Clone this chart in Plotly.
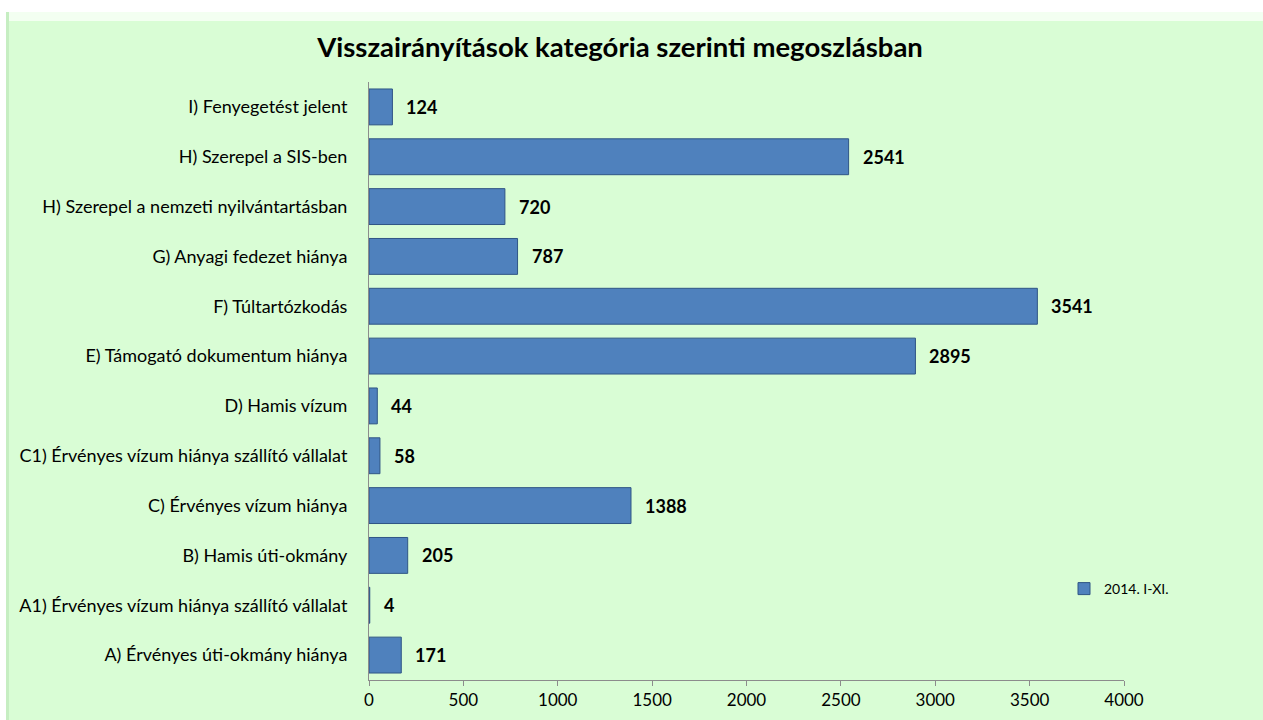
import plotly.graph_objects as go

categories = [
    "A) Érvényes úti-okmány hiánya",
    "A1) Érvényes vízum hiánya szállító vállalat",
    "B) Hamis úti-okmány",
    "C) Érvényes vízum hiánya",
    "C1) Érvényes vízum hiánya szállító vállalat",
    "D) Hamis vízum",
    "E) Támogató dokumentum hiánya",
    "F) Túltartózkodás",
    "G) Anyagi fedezet hiánya",
    "H) Szerepel a nemzeti nyilvántartásban",
    "H) Szerepel a SIS-ben",
    "I) Fenyegetést jelent",
]
values = [171, 4, 205, 1388, 58, 44, 2895, 3541, 787, 720, 2541, 124]
series_name = "2014. I-XI."
title_text = "Visszairányítások kategória szerinti megoszlásban"
x_ticks = [0, 500, 1000, 1500, 2000, 2500, 3000, 3500, 4000]

W, H = 1263, 720
L, R, T, B = 369, 139, 82, 40
pw, ph = W - L - R, H - T - B

def px(p):
    return (p - L) / pw

def py(q):
    return (H - B - q) / ph

FONT = "Lato, Carlito, Calibri, sans-serif"
BG = "#d9fdd5"

fig = go.Figure()
fig.add_trace(go.Bar(
    y=categories, x=values, orientation="h", name=series_name,
    marker=dict(color="#4f81bd", line=dict(color="#2f5585", width=1)),
    width=0.72, showlegend=True,
))

for c, v in zip(categories, values):
    fig.add_annotation(x=v, y=c, text=f"<b>{v}</b>", showarrow=False,
                       xanchor="left", xshift=12,
                       font=dict(family=FONT, size=18, color="#000000"))

shapes = [
    dict(type="rect", xref="paper", yref="paper", x0=px(0), x1=px(W), y0=py(0), y1=py(12),
         fillcolor="white", line=dict(width=0), layer="below"),
    dict(type="rect", xref="paper", yref="paper", x0=px(0), x1=px(6), y0=py(0), y1=py(H),
         fillcolor="white", line=dict(width=0), layer="below"),
    dict(type="rect", xref="paper", yref="paper", x0=px(6), x1=px(W), y0=py(12), y1=py(21),
         fillcolor="#f3fff1", line=dict(width=0), layer="below"),
    dict(type="rect", xref="paper", yref="paper", x0=px(6), x1=px(9), y0=py(12), y1=py(H),
         fillcolor="#c6eec2", line=dict(width=0), layer="below"),
]

fig.update_layout(
    width=W, height=H,
    margin=dict(l=L, r=R, t=T, b=B, autoexpand=False),
    paper_bgcolor=BG, plot_bgcolor=BG,
    shapes=shapes,
    title=dict(text=f"<b>{title_text}</b>", x=620 / W, xanchor="center",
               y=1 - 47 / H, yanchor="middle",
               font=dict(family=FONT, size=27.5, color="#000000")),
    font=dict(family=FONT, size=17, color="#000000"),
    xaxis=dict(range=[0, 4000], tickvals=x_ticks, ticktext=[str(t) for t in x_ticks],
               showgrid=False, zeroline=False, showline=True, linecolor="#8c8c8c",
               linewidth=1, ticks="outside", ticklen=5, tickcolor="#8c8c8c",
               tickfont=dict(family=FONT, size=17, color="#000000")),
    yaxis=dict(categoryorder="array", categoryarray=categories, showgrid=False,
               showline=True, linecolor="#8c8c8c", linewidth=1, ticks="",
               ticklabelstandoff=17,
               tickfont=dict(family=FONT, size=18, color="#000000")),
    legend=dict(x=px(1064), y=py(589), xanchor="left", yanchor="middle",
                bgcolor="rgba(0,0,0,0)", font=dict(family=FONT, size=14, color="#000000"),
                itemwidth=30),
)

fig.write_html("out.html",
               config={"displayModeBar": False},
               post_script="document.body.style.margin='0px';"
                           "document.body.style.overflow='hidden';")
